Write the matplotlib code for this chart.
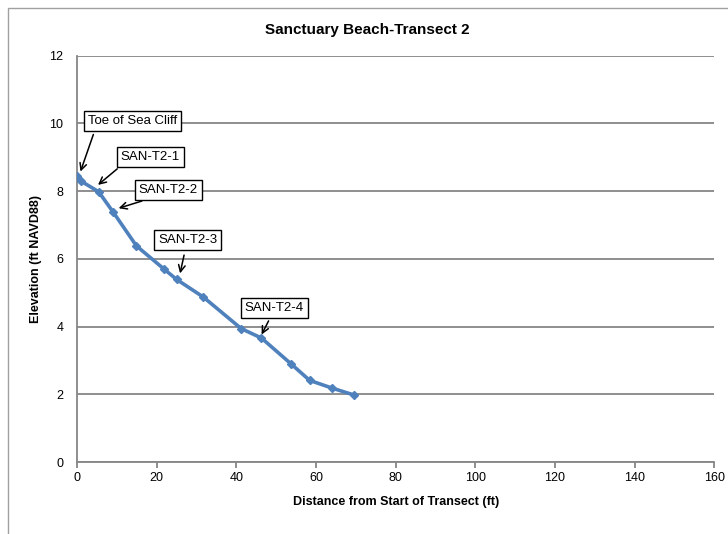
import matplotlib
matplotlib.use("Agg")
import matplotlib.pyplot as plt
from matplotlib.patches import Rectangle

plt.rcParams['font.family'] = ['Liberation Sans', 'DejaVu Sans']

# transect profile
dist = [0, 0.9, 5.4, 9.1, 14.9, 21.9, 25.0, 31.7, 41.2, 46.3, 53.8, 58.4, 64.1, 69.5]
elev = [8.45, 8.3, 7.98, 7.37, 6.38, 5.69, 5.39, 4.87, 3.94, 3.66, 2.89, 2.41, 2.18, 1.98]

# callouts: label, text position, arrow tail, arrow tip
labels = ["Toe of Sea Cliff", "SAN-T2-1", "SAN-T2-2", "SAN-T2-3", "SAN-T2-4"]
text_pos = [(13.9, 10.06), (18.4, 9.02), (22.9, 8.03), (27.8, 6.56), (49.5, 4.55)]
tails = [(4.3, 9.75), (10.6, 8.71), (16.9, 7.73), (27.0, 6.19), (48.4, 4.24)]
tips = [(0.6, 8.5), (4.7, 8.13), (9.75, 7.47), (25.7, 5.49), (46.0, 3.69)]

fig = plt.figure(figsize=(7.28, 5.34), dpi=100)
ax = fig.add_axes([0.106, 0.1348, 0.875, 0.761])

grid_c = '#868686'
ax.set_xlim(0, 160)
ax.set_ylim(0, 12)
ax.set_xticks(range(0, 161, 20))
ax.set_yticks(range(0, 13, 2))
ax.grid(axis='y', color=grid_c, linewidth=1.3)
ax.set_axisbelow(True)
for s in ['top', 'right']:
    ax.spines[s].set_visible(False)
for s in ['left', 'bottom']:
    ax.spines[s].set_color(grid_c)
    ax.spines[s].set_linewidth(1.3)
ax.tick_params(axis='x', colors=grid_c, labelcolor='black', labelsize=9, length=4, width=1.3)
ax.tick_params(axis='y', labelcolor='black', labelsize=9, length=0, pad=10)

ax.plot(dist, elev, color='#4F81BD', linewidth=2.6, marker='D', markersize=4, zorder=3)

for lab, tp, tl, tip in zip(labels, text_pos, tails, tips):
    ax.annotate('', xy=tip, xytext=tl,
                arrowprops=dict(arrowstyle='->', color='black', lw=1.1, mutation_scale=12),
                zorder=4)
    ax.text(tp[0], tp[1], lab, ha='center', va='center', fontsize=9.5, zorder=5,
            bbox=dict(boxstyle='square,pad=0.3', fc='white', ec='black', lw=1.0))

ax.set_xlabel('Distance from Start of Transect (ft)', fontsize=9, fontweight='bold', labelpad=8)
ax.set_ylabel('Elevation (ft NAVD88)', fontsize=9, fontweight='bold', labelpad=5)
fig.text(0.505, 0.944, 'Sanctuary Beach-Transect 2', ha='center', va='center',
         fontsize=11, fontweight='bold')

# chart frame (only left and top edges fall inside the picture)
fig.patches.append(Rectangle((0.011, -0.05), 1.1, 1.035, transform=fig.transFigure,
                             fill=False, edgecolor='#A0A0A0', linewidth=1.0))

fig.savefig('out.png', dpi=100)
